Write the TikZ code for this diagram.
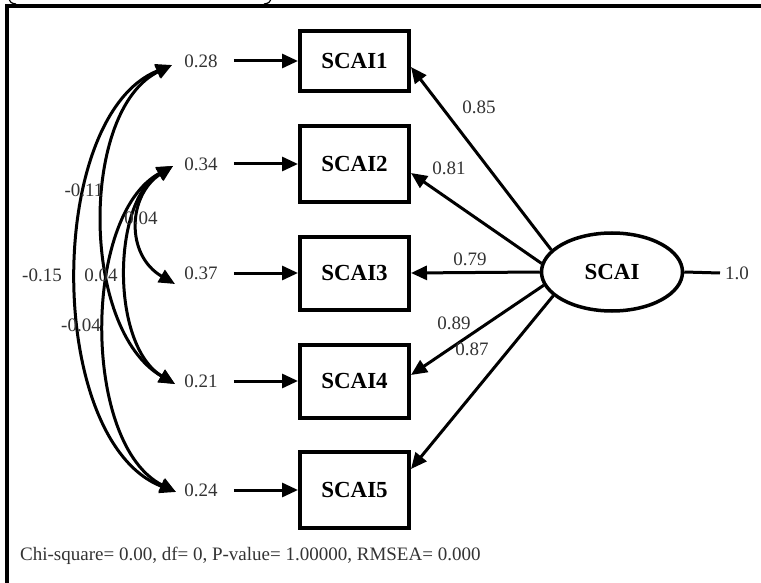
\documentclass[tikz,border=0pt]{standalone}
\usepackage{fontspec}
\setmainfont{Liberation Serif}
\usetikzlibrary{arrows.meta,shapes.geometric}
\tikzset{
  numtxt/.style={inner sep=0pt, text=black!80, font=\fontsize{19}{22}\selectfont},
  boxlbl/.style={draw, line width=4pt, minimum width=109pt, inner sep=0pt, font=\fontsize{23}{27}\selectfont\bfseries},
  arr/.style={line width=3pt, -{Triangle[length=16pt,width=14pt]}},
  cov/.style={line width=3pt, {Triangle[length=16pt,width=14pt]}-{Triangle[length=16pt,width=14pt]}},
  plain/.style={line width=3pt},
}
\begin{document}
\begin{tikzpicture}[x=1pt,y=-1pt]
\useasboundingbox (0,0) rectangle (761,583);
% frame
\draw[line width=4pt] (7,585) -- (7,6) -- (765,6);
\draw[line width=1.2pt] (9,-1) .. controls (11,3) .. (16,4);
\draw[line width=1.2pt] (271,-1) .. controls (269,3) .. (264,4);

% boxes
\node[boxlbl, minimum height=60pt] (b1) at (354.5,61) {SCAI1};
\node[boxlbl, minimum height=76pt] (b2) at (354.5,164) {SCAI2};
\node[boxlbl, minimum height=73pt] (b3) at (354.5,273) {SCAI3};
\node[boxlbl, minimum height=73pt] (b4) at (354.5,381) {SCAI4};
\node[boxlbl, minimum height=76pt] (b5) at (354.5,490) {SCAI5};

% latent
\node[ellipse, draw, line width=3.5pt, minimum width=141pt, minimum height=78pt, inner sep=0pt,
      font=\fontsize{23}{27}\selectfont\bfseries] (ell) at (612,272) {SCAI};
\node[numtxt, anchor=west] (one) at (725,273) {1.0};
\draw[plain] (ell.east) -- ([xshift=-5pt]one.west);

% error terms
\node[numtxt] (e1) at (201,61) {0.28};
\node[numtxt] (e2) at (201,164) {0.34};
\node[numtxt] (e3) at (201,273) {0.37};
\node[numtxt] (e4) at (201,381) {0.21};
\node[numtxt] (e5) at (201,490) {0.24};
\foreach \i in {1,...,5}{
  \draw[arr] ([xshift=16pt]e\i.east) -- (b\i.west);
}

% loadings
\draw[arr] (ell.160) -- ([yshift=-6pt]b1.east);
\draw[arr] (ell.173) -- ([yshift=-9pt]b2.east);
\draw[arr] (ell.180) -- (b3.east);
\draw[arr] (ell.191) -- ([yshift=6pt]b4.east);
\draw[arr] (ell.202) -- ([yshift=21pt]b5.east);
\node[numtxt] (l1) at (479,107) {0.85};
\node[numtxt] (l2) at (449,168) {0.81};
\node[numtxt] (l3) at (470,259) {0.79};
\node[numtxt] (l4) at (454,323) {0.89};
\node[numtxt] (l5) at (472,349) {0.87};

% covariance end points
\coordinate (p1) at (172,65);
\coordinate (p2) at (173,166);
\coordinate (p3) at (175,284);
\coordinate (p4) at (175,384);
\coordinate (p5) at (176,492);
\draw[cov] (p1) .. controls (45,116) and (45,441) .. (p5);
\draw[cov] (p1) .. controls (80,110) and (80,329) .. (p4);
\draw[cov] (p2) .. controls (128,195) and (125,255) .. (p3);
\draw[cov] (p2) .. controls (112,200) and (110,345) .. (p4);
\draw[cov] (p2) .. controls (82,215) and (82,445) .. (p5);
\node[numtxt] (c14) at (84,190) {-0.11};
\node[numtxt] (c23) at (141,218) {0.04};
\node[numtxt] (c15) at (42,275) {-0.15};
\node[numtxt] (c24) at (101,275) {0.04};
\node[numtxt] (c25) at (81,325) {-0.04};

% fit statistics
\node[numtxt, anchor=west] (fit) at (20,556) {Chi-square= 0.00, df= 0, P-value= 1.00000, RMSEA= 0.000};
\end{tikzpicture}
\end{document}
